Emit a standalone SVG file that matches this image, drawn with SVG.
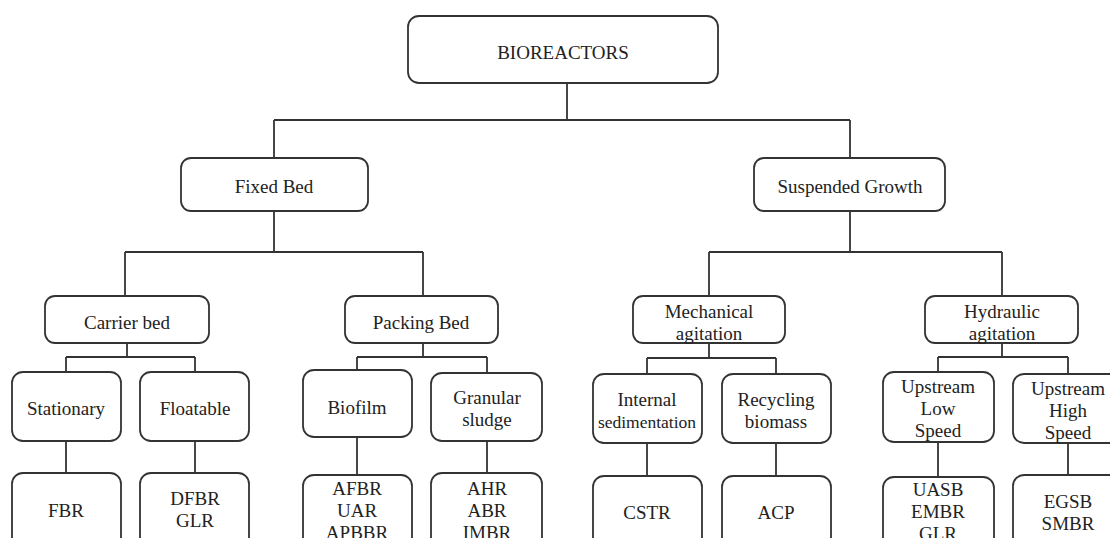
<svg xmlns="http://www.w3.org/2000/svg" width="1110" height="538" viewBox="0 0 1110 538">
<style>
.b{fill:#fff;stroke:#333;stroke-width:1.8}
.t{font-family:"Liberation Serif","Times New Roman",serif;font-size:19px;fill:#222;text-anchor:middle}
.c{fill:none;stroke:#333;stroke-width:1.8}
</style>
<rect width="1110" height="538" fill="#fff"/>
<g id="connectors">
<path class="c" d="M567 83V120M274 120H850M274 120V158M850 120V158"/>
<path class="c" d="M274 211V252M125 252H423M125 252V296M423 252V296"/>
<path class="c" d="M850 211V252M709 252H1002M709 252V296M1002 252V296"/>
<path class="c" d="M127 343V357M66 357H195M66 357V372M195 357V372M66 441V473M195 441V473"/>
<path class="c" d="M423 343V357M357 357H487M357 357V370M487 357V373M357 437V475M487 441V473"/>
<path class="c" d="M709 343V358M647 358H776M647 358V374M776 358V374M647 443V476M776 443V476"/>
<path class="c" d="M1002 343V357M938 357H1068M938 357V372M1068 357V374M938 442V477M1068 443V475"/>
</g>
<g id="bioreactors"><rect class="b" x="408" y="16" width="310" height="67" rx="11"/><text class="t" x="563" y="58.5">BIOREACTORS</text></g>
<g id="fixed-bed"><rect class="b" x="181" y="158" width="187" height="53" rx="10"/><text class="t" x="274" y="192.5">Fixed Bed</text></g>
<g id="suspended-growth"><rect class="b" x="754" y="158" width="191" height="53" rx="10"/><text class="t" x="850" y="192.5">Suspended Growth</text></g>
<g id="carrier-bed"><rect class="b" x="45" y="296" width="164" height="47" rx="10"/><text class="t" x="127" y="328.5">Carrier bed</text></g>
<g id="packing-bed"><rect class="b" x="345" y="296" width="153" height="47" rx="10"/><text class="t" x="421" y="328.5">Packing Bed</text></g>
<g id="mechanical-agitation"><rect class="b" x="633" y="296" width="152" height="47" rx="10"/><text class="t" x="709" y="317.5">Mechanical</text><text class="t" x="709" y="339.5">agitation</text></g>
<g id="hydraulic-agitation"><rect class="b" x="925" y="296" width="153" height="47" rx="10"/><text class="t" x="1002" y="317.5">Hydraulic</text><text class="t" x="1002" y="339.5">agitation</text></g>
<g id="stationary"><rect class="b" x="12" y="372" width="109" height="69" rx="11"/><text class="t" x="66" y="414.5">Stationary</text></g>
<g id="floatable"><rect class="b" x="140" y="372" width="109" height="69" rx="11"/><text class="t" x="195" y="414.5">Floatable</text></g>
<g id="biofilm"><rect class="b" x="303" y="370" width="109" height="67" rx="11"/><text class="t" x="357" y="413.5">Biofilm</text></g>
<g id="granular-sludge"><rect class="b" x="431" y="373" width="111" height="68" rx="11"/><text class="t" x="487" y="403.5">Granular</text><text class="t" x="487" y="425.5">sludge</text></g>
<g id="internal-sedimentation"><rect class="b" x="593" y="374" width="109" height="69" rx="11"/><text class="t" x="647" y="405.5">Internal</text><text class="t" x="647" y="428" style="font-size:17.5px">sedimentation</text></g>
<g id="recycling-biomass"><rect class="b" x="722" y="374" width="109" height="69" rx="11"/><text class="t" x="776" y="405.5">Recycling</text><text class="t" x="776" y="427.5">biomass</text></g>
<g id="upstream-low-speed"><rect class="b" x="883" y="372" width="111" height="70" rx="11"/><text class="t" x="938" y="392.5">Upstream</text><text class="t" x="938" y="414.5">Low</text><text class="t" x="938" y="437">Speed</text></g>
<g id="upstream-high-speed"><rect class="b" x="1013" y="374" width="110" height="69" rx="11"/><text class="t" x="1068" y="394.5">Upstream</text><text class="t" x="1068" y="416.5">High</text><text class="t" x="1068" y="438.5">Speed</text></g>
<g id="fbr"><rect class="b" x="12" y="473" width="109" height="80" rx="11"/><text class="t" x="66" y="516.5">FBR</text></g>
<g id="dfbr-glr"><rect class="b" x="140" y="473" width="109" height="80" rx="11"/><text class="t" x="195" y="504.5">DFBR</text><text class="t" x="195" y="526.5">GLR</text></g>
<g id="afbr-uar-apbbr"><rect class="b" x="303" y="475" width="109" height="80" rx="11"/><text class="t" x="357" y="494.5">AFBR</text><text class="t" x="357" y="516.5">UAR</text><text class="t" x="357" y="538.5">APBBR</text></g>
<g id="ahr-abr-imbr"><rect class="b" x="431" y="473" width="111" height="80" rx="11"/><text class="t" x="487" y="494.5">AHR</text><text class="t" x="487" y="516.5">ABR</text><text class="t" x="487" y="538.5">IMBR</text></g>
<g id="cstr"><rect class="b" x="593" y="476" width="109" height="80" rx="11"/><text class="t" x="647" y="518.5">CSTR</text></g>
<g id="acp"><rect class="b" x="722" y="476" width="109" height="80" rx="11"/><text class="t" x="776" y="518.5">ACP</text></g>
<g id="uasb-embr-glr"><rect class="b" x="883" y="477" width="111" height="80" rx="11"/><text class="t" x="938" y="495.5">UASB</text><text class="t" x="938" y="517.5">EMBR</text><text class="t" x="938" y="539.5">GLR</text></g>
<g id="egsb-smbr"><rect class="b" x="1013" y="475" width="110" height="80" rx="11"/><text class="t" x="1068" y="507.5">EGSB</text><text class="t" x="1068" y="529.5">SMBR</text></g>
</svg>
